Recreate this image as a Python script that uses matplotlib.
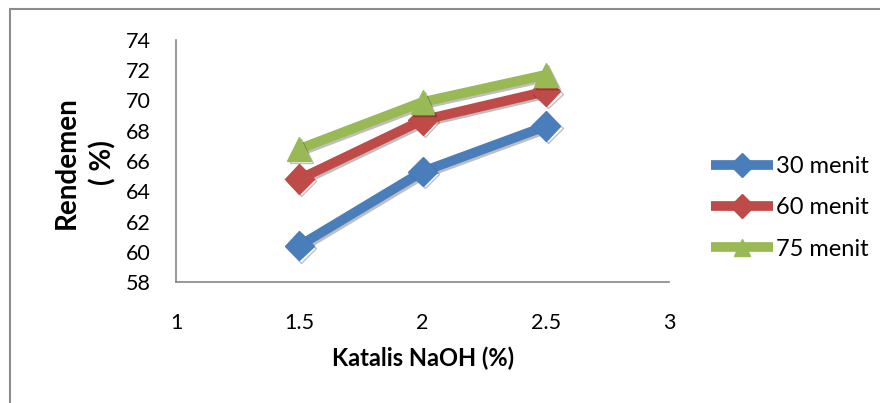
import matplotlib.pyplot as plt
import matplotlib.patheffects as pe
from matplotlib.patches import Rectangle

# data
katalis = [1.5, 2, 2.5]
menit_30 = [60.4, 65.3, 68.3]
menit_60 = [64.8, 68.7, 70.6]
menit_75 = [66.8, 69.9, 71.7]
labels = ["30 menit", "60 menit", "75 menit"]
colors = ["#4A7EBB", "#BE4B48", "#98B954"]
markers = ["D", "D", "^"]

plt.rcParams['font.family'] = ['Lato', 'DejaVu Sans']

fig = plt.figure(figsize=(8.8, 4.03), dpi=100)
ax = fig.add_axes([176 / 880, 1 - 282 / 403, (669 - 176) / 880, (282 - 40) / 403])

# outer chart frame (cropped at right and bottom like the reference)
fig.patches.append(Rectangle((10 / 880, -0.05), 1.0, 1 - 9 / 403 + 0.05,
                             transform=fig.transFigure, fill=False,
                             edgecolor="#8c8c8c", linewidth=1.5))

shadow = [pe.SimpleLineShadow(offset=(1.5, -1.5), alpha=0.25), pe.Normal()]
for ys, lab, c, m in zip([menit_30, menit_60, menit_75], labels, colors, markers):
    ms = 15 if m == "D" else 17
    ax.plot(katalis, ys, color=c, lw=7, marker=m, markersize=ms,
            markeredgecolor=c, label=lab, path_effects=shadow,
            solid_capstyle="butt")

ax.set_xlim(1, 3)
ax.set_ylim(58, 74)
ax.set_xticks([1, 1.5, 2, 2.5, 3])
ax.set_xticklabels(["1", "1.5", "2", "2.5", "3"])
ax.set_yticks(range(58, 75, 2))
ax.tick_params(length=0, labelsize=15.5)
ax.tick_params(axis="y", pad=18)
ax.tick_params(axis="x", pad=22)
for s in ["top", "right"]:
    ax.spines[s].set_visible(False)
for s in ["left", "bottom"]:
    ax.spines[s].set_color("#868686")
    ax.spines[s].set_linewidth(1.2)

fig.text(423 / 880, 1 - 358 / 403, "Katalis NaOH (%)", ha="center", va="center",
         fontsize=17, fontweight="bold")
fig.text(85 / 880, 1 - 163 / 403, "Rendemen\n( %)", ha="center", va="center",
         rotation=90, fontsize=20, fontweight="bold", linespacing=1.4)

leg = ax.legend(loc="center left", bbox_to_anchor=(702 / 880, 1 - 208 / 403),
                bbox_transform=fig.transFigure, frameon=False, fontsize=17,
                handlelength=2.6, handletextpad=0.15, labelspacing=0.85,
                borderaxespad=0)
for line in leg.get_lines():
    line.set_path_effects([pe.Normal()])
    line.set_markersize(12)

fig.savefig("out.png", dpi=100)
